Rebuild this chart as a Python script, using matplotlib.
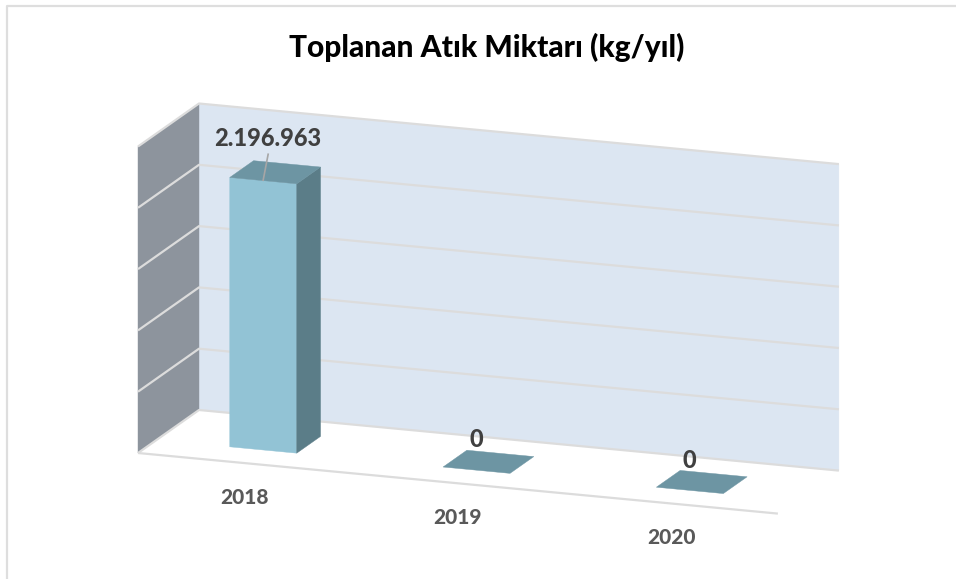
import matplotlib
matplotlib.use("Agg")
import matplotlib.pyplot as plt
from matplotlib.patches import Polygon

plt.rcParams["font.family"] = ["Lato", "DejaVu Sans"]

# data
years = ["2018", "2019", "2020"]
values = [2196963, 0, 0]
axis_max = 2500000
grid_step = 500000
title = "Toplanan Atık Miktarı (kg/yıl)"

# colours
wall_color = "#dce6f2"
side_wall_color = "#8d949d"
grid_color = "#dcdcdc"
front_color = "#92c3d5"
top_color = "#6d95a3"
right_color = "#5b7d88"

# oblique chart box, in picture pixels
origin = (138, 453)
cat_vec = (213.3, 20.2)
depth_vec = (61, -43)
height_px = 306.5
bar_w = 0.314
bar_d = 0.39


def project(cat, value, depth):
    px = origin[0] + cat * cat_vec[0] + depth * depth_vec[0]
    py = origin[1] + cat * cat_vec[1] + depth * depth_vec[1] - value / axis_max * height_px
    return px, py


def fill(ax, points, color, z=2):
    ax.add_patch(Polygon([project(*p) for p in points], closed=True, fc=color, ec=color, lw=0.3, zorder=z))


def line(ax, points, color=grid_color, lw=1.6, z=1.5):
    xs, ys = zip(*[project(*p) for p in points])
    ax.plot(xs, ys, color=color, lw=lw, zorder=z, solid_capstyle="butt")


fig = plt.figure(figsize=(9.56, 5.79), dpi=100)
ax = fig.add_axes([0, 0, 1, 1])
ax.set_xlim(0, 956)
ax.set_ylim(579, 0)
ax.axis("off")

# outer border
ax.plot([7.5, 7.5, 956], [579, 6, 6], color="#dedede", lw=1.6, zorder=1)

n = len(years)

# walls
fill(ax, [(0, 0, 1), (n, 0, 1), (n, axis_max, 1), (0, axis_max, 1)], wall_color, z=1)
fill(ax, [(0, 0, 0), (0, 0, 1), (0, axis_max, 1), (0, axis_max, 0)], side_wall_color, z=1)

# gridlines
for v in range(0, axis_max + 1, grid_step):
    line(ax, [(0, v, 0), (0, v, 1), (n, v, 1)])
line(ax, [(0, 0, 0), (n, 0, 0)])

# bars
for i, v in enumerate(values):
    c = i + 0.5
    x0, x1 = c - bar_w / 2, c + bar_w / 2
    d0, d1 = 0.5 - bar_d / 2, 0.5 + bar_d / 2
    if v > 0:
        fill(ax, [(x0, 0, d0), (x1, 0, d0), (x1, v, d0), (x0, v, d0)], front_color, z=3)
        fill(ax, [(x1, 0, d0), (x1, 0, d1), (x1, v, d1), (x1, v, d0)], right_color, z=3)
    fill(ax, [(x0, v, d0), (x1, v, d0), (x1, v, d1), (x0, v, d1)], top_color, z=3)

# value labels
label_shift = [(-7, -34), (-12, -22), (-12, -21)]
for i, v in enumerate(values):
    px, py = project(i + 0.5, v, 0.5)
    text = f"{v:,}".replace(",", ".")
    ax.text(px + label_shift[i][0], py + label_shift[i][1], text, ha="center", va="center",
            fontsize=17, fontweight=900, color="#404040", zorder=5)
    if v > 0:
        ax.plot([px - 12, px - 7], [py + 8, py - 18], color="#a6a6a6", lw=1.2, zorder=4)

# category labels
for i, year in enumerate(years):
    px, py = project(i + 0.5, 0, 0)
    ax.text(px, py + 34, year, ha="center", va="center", fontsize=15, fontweight=900, color="#595959")

ax.text(487, 47, title, ha="center", va="center", fontsize=21.5, fontweight=900, color="black")

fig.savefig("out.png", dpi=100)
